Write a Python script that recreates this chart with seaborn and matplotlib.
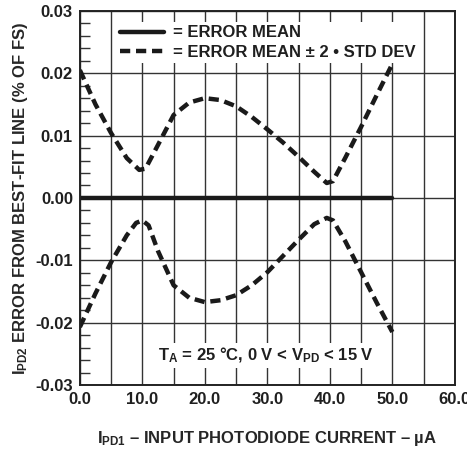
import numpy as np
import pandas as pd
import matplotlib
matplotlib.use("Agg")
import matplotlib.pyplot as plt
import seaborn as sns
from matplotlib.ticker import MultipleLocator

# -----------------------------
# Data
# -----------------------------
current_upper = [0, 2.5, 5, 7.5, 9.5, 10.5, 12.5, 15, 17.5, 20, 22.5, 25, 27.5, 30, 32.5, 35, 37.5, 39.5, 40.5, 42.5, 45, 47.5, 50]
err_upper = [0.0205, 0.0150, 0.0104, 0.0064, 0.0045, 0.0047, 0.0085, 0.0133, 0.0153, 0.0160, 0.0157, 0.0147, 0.0130, 0.0110, 0.0089, 0.0066, 0.0042, 0.0024, 0.0027, 0.0065, 0.0114, 0.0165, 0.0215]

current_lower = [0, 2.5, 5, 7.5, 9.0, 10.0, 11.0, 12.5, 15, 17.5, 20, 22.5, 25, 27.5, 30, 32.5, 35, 37.5, 39.5, 40.5, 42.5, 45, 47.5, 50]
err_lower = [-0.0207, -0.0153, -0.0103, -0.0060, -0.0040, -0.0036, -0.0044, -0.0085, -0.0140, -0.0160, -0.0167, -0.0164, -0.0156, -0.0140, -0.0119, -0.0093, -0.0067, -0.0042, -0.0032, -0.0036, -0.0070, -0.0119, -0.0168, -0.0215]

current_mean = [0, 50]
err_mean = [0.0, 0.0]

df_up = pd.DataFrame({"current": current_upper, "error": err_upper})
df_lo = pd.DataFrame({"current": current_lower, "error": err_lower})
df_mean = pd.DataFrame({"current": current_mean, "error": err_mean})

# -----------------------------
# Style
# -----------------------------
sns.set_style("white")
plt.rcParams["font.family"] = ["Liberation Sans", "DejaVu Sans"]
plt.rcParams["font.weight"] = "bold"
plt.rcParams["axes.unicode_minus"] = False
plt.rcParams["mathtext.fontset"] = "custom"
plt.rcParams["mathtext.rm"] = "Liberation Sans:bold"
plt.rcParams["mathtext.it"] = "Liberation Sans:bold"
plt.rcParams["mathtext.bf"] = "Liberation Sans:bold"
plt.rcParams["text.color"] = "#1f1f1f"

FS = 12
ink = "#1a1a1a"

fig = plt.figure(figsize=(4.67, 4.53), dpi=100)
ax = fig.add_axes([0.171, 0.150, 0.803, 0.826])

sns.lineplot(data=df_mean, x="current", y="error", ax=ax, color=ink, lw=3.2,
             label="= ERROR MEAN")
sns.lineplot(data=df_up, x="current", y="error", ax=ax, color=ink, lw=3.2,
             label="= ERROR MEAN \u00b1 2 \u2022 STD DEV")
sns.lineplot(data=df_lo, x="current", y="error", ax=ax, color=ink, lw=3.2,
             label="_nolegend_")
for ln in ax.lines[1:]:
    ln.set_dashes((2.3, 1.3))

ax.set_xlim(0, 60)
ax.set_ylim(-0.03, 0.03)
ax.xaxis.set_major_locator(MultipleLocator(10))
ax.xaxis.set_minor_locator(MultipleLocator(5))
ax.yaxis.set_major_locator(MultipleLocator(0.01))
ax.yaxis.set_minor_locator(MultipleLocator(0.002))
ax.set_xticks(ax.get_xticks())
ax.set_xticklabels([f"{v:.1f}" for v in ax.get_xticks()])
ax.set_yticks(ax.get_yticks())
ax.set_yticklabels([f"{v:.2f}" if abs(v) > 1e-9 else "0.00" for v in ax.get_yticks()])
ax.set_xlim(0, 60)
ax.set_ylim(-0.03, 0.03)

ax.grid(True, which="major", axis="y", color="#333333", lw=1.0)
ax.grid(True, which="both", axis="x", color="#333333", lw=1.0)
ax.set_axisbelow(True)
ax.tick_params(axis="both", which="major", labelsize=FS, length=0, pad=5, labelcolor="#1f1f1f")
ax.tick_params(axis="y", which="minor", direction="in", length=7.5, width=1, color="#333333", left=True)
ax.tick_params(axis="x", which="minor", length=0)
for s in ax.spines.values():
    s.set_color("#222222")
    s.set_linewidth(1.4)

ax.set_xlabel("$\\mathrm{I_{PD1}}$ \u2013 INPUT PHOTODIODE CURRENT \u2013 \u00b5A",
              fontsize=FS, fontweight="bold", labelpad=16)
ax.set_ylabel("$\\mathrm{I_{PD2}}$ ERROR FROM BEST-FIT LINE (% OF FS)",
              fontsize=FS, fontweight="bold", labelpad=4)

leg = ax.legend(loc="upper left", bbox_to_anchor=(0.099, 0.970), fontsize=FS, frameon=True,
                handlelength=2.6, handletextpad=0.55, borderpad=0.2, labelspacing=0.25,
                borderaxespad=0)
leg.get_frame().set_facecolor("white")
leg.get_frame().set_edgecolor("none")
leg.get_frame().set_alpha(1)
leg.get_frame().set_boxstyle("square", pad=0)

ax.text(29.8, -0.0252, "$\\mathrm{T_A}$ = 25 \u00b0C, 0 V < $\\mathrm{V_{PD}}$ < 15 V",
        ha="center", va="center", fontsize=FS, fontweight="bold",
        bbox=dict(facecolor="white", edgecolor="none", pad=2))

fig.savefig("out.png", dpi=100)
